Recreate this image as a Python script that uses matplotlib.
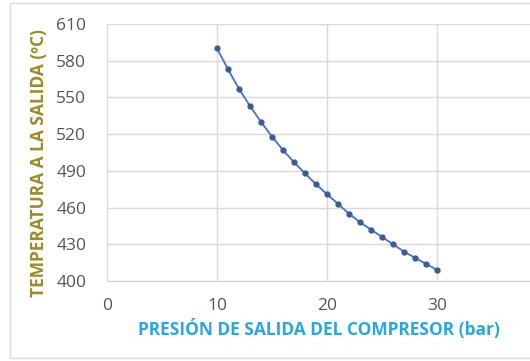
import numpy as np
import matplotlib
matplotlib.use("Agg")
import matplotlib.pyplot as plt
from matplotlib.patches import Rectangle

# Datos
presion = [10, 11, 12, 13, 14, 15, 16, 17, 18, 19, 20,
           21, 22, 23, 24, 25, 26, 27, 28, 29, 30]
temperatura = [590, 573, 557, 543, 530, 518, 507, 497, 488, 479, 471,
               463, 455, 448, 442, 436, 430, 424, 419, 414, 409]
yticks = [400, 430, 460, 490, 520, 550, 580, 610]
xticks = [0, 10, 20, 30]

plt.rcParams["font.family"] = ["Open Sans", "DejaVu Sans"]

fig = plt.figure(figsize=(5.30, 3.61), dpi=100)
fig.patch.set_facecolor("white")
fig.patches.append(Rectangle((10 / 530, 3 / 361), 1.0, 1 - 6 / 361, transform=fig.transFigure,
                             fill=False, edgecolor="#d9d9d9", linewidth=1))

ax = fig.add_axes([107 / 530, 80 / 361, 423 / 530, 257 / 361])
ax.plot(presion, temperatura, color="#4472c4", linewidth=1.3,
        marker="o", markersize=3.5, markerfacecolor="#3b5a99", markeredgecolor="#3b5a99")

ax.set_xlim(0, 423 / 11)
ax.set_ylim(400, 610)
ax.set_xticks(xticks)
ax.set_yticks(yticks)
ax.grid(True, color="#d9d9d9", linewidth=1)
ax.set_axisbelow(True)
for s in ["top", "right", "left"]:
    ax.spines[s].set_visible(False)
ax.spines["bottom"].set_color("#d0d0d0")
ax.tick_params(length=0, labelsize=12.5, labelcolor="#555555")
ax.tick_params(axis="x", pad=12)
ax.tick_params(axis="y", pad=15)

ax.set_xlabel("PRESIÓN DE SALIDA DEL COMPRESOR (bar)", fontsize=12.5, fontweight="bold",
              color="#2aa7dc", labelpad=4)
ax.set_ylabel("TEMPERATURA A LA SALIDA (ºC)", fontsize=12.5, fontweight="bold",
              color="#9c8a2a")
ax.yaxis.set_label_coords(-0.14, 0.46)

plt.savefig("out.png", dpi=100)
